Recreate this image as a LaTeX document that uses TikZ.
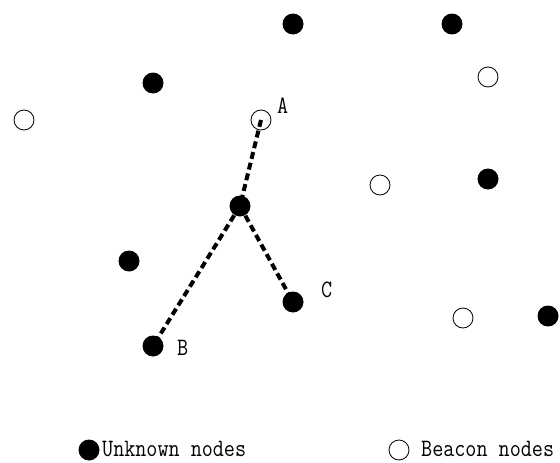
\documentclass[tikz,border=0pt]{standalone}
\usepackage{fontspec}
\newfontfamily\lblfont[FakeStretch=0.86]{Latin Modern Mono}
\begin{document}
\begin{tikzpicture}[x=1pt,y=-1pt,
  unk/.style={circle,fill=black,minimum size=21pt,inner sep=0pt},
  bcn/.style={circle,draw=black,line width=0.8pt,fill=white,minimum size=20pt,inner sep=0pt},
  link/.style={line width=4pt,dash pattern=on 7pt off 4pt},
  lbl/.style={font=\lblfont\fontsize{25}{27}\selectfont,inner sep=0pt}]
\useasboundingbox (0,0) rectangle (560,463);
% unknown nodes
\node[unk] (u1) at (293,24) {};
\node[unk] (u2) at (452,24) {};
\node[unk] (u3) at (153,83) {};
\node[unk] (u4) at (488,179) {};
\node[unk] (u5) at (129,261) {};
\node[unk] (u6) at (548,316) {};
\node[unk] (M) at (240,206) {};
\node[unk] (C) at (293,302) {};
\node[unk] (B) at (153,346) {};
% beacon nodes
\node[bcn] (b1) at (24,120) {};
\node[bcn] (A) at (261,120) {};
\node[bcn] (b2) at (488,77) {};
\node[bcn] (b3) at (380,185) {};
\node[bcn] (b4) at (463,318) {};
% links
\draw[link] (A.center) -- (M.center);
\draw[link] (M.center) -- (B.center);
\draw[link] (M.center) -- (C.center);
% labels
\node[lbl,anchor=west] (la) at (277,106) {A};
\node[lbl,anchor=west] (lb) at (177,348) {B};
\node[lbl,anchor=west] (lc) at (321,290) {C};
% legend
\node[unk] (lu) at (89,450) {};
\node[lbl,anchor=base west] (lut) at (102,456) {Unknown nodes};
\node[bcn] (lbn) at (399,450) {};
\node[lbl,anchor=base west] (lbt) at (421,456) {Beacon nodes};
\end{tikzpicture}
\end{document}
